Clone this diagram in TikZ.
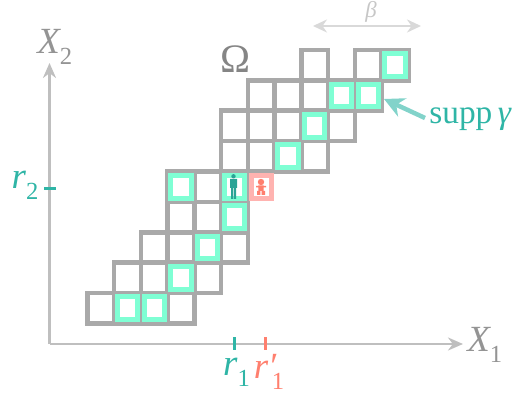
\documentclass[tikz,border=0pt]{standalone}
\usepackage{fontspec}
\setmainfont{Liberation Serif}
\usetikzlibrary{arrows.meta}
\newcommand{\subnum}[1]{\raisebox{-0.3em}{\upshape\fontsize{14}{14}\selectfont #1}}
\definecolor{cellgray}{HTML}{A9A9A9}
\definecolor{suppgreen}{HTML}{7FFFD4}
\definecolor{tealtext}{HTML}{2FB5A6}
\definecolor{salmon}{HTML}{FF7F6E}
\definecolor{pinkbox}{HTML}{FFB3B0}
\tikzset{
	cell/.style={draw=cellgray, line width=.09cm, fill=white},
	suppcell/.style={draw=suppgreen, line width=.1cm, fill=white},
	axis/.style={draw=black!25, line width=.05cm, -{Stealth[length=.3cm,width=.26cm]}},
	axislabel/.style={text=black!42, font=\fontsize{21}{21}\selectfont\itshape, inner sep=0pt},
	ticklabel/.style={font=\fontsize{21}{21}\selectfont\itshape, inner sep=0pt},
}
\begin{document}
\begin{tikzpicture}[x=.02cm, y=-.02cm]
	\useasboundingbox (0,0) rectangle (523,394);
	% cells of Omega: row/first/last
	\begin{scope}[shift={(87.5,323.5)}, x=.535cm, y=.608cm]
		\foreach \j/\a/\b in {0/0/3, 1/1/4, 2/2/5, 3/3/5, 4/3/5, 5/5/8, 6/5/9, 7/6/10}
		\foreach \i in {\a,...,\b}
		\draw[cell] (\i,\j) rectangle ++(1,1);
		\foreach \i/\j in {8/8, 10/8, 11/8}
		\draw[cell] (\i,\j) rectangle ++(1,1);
		% support
		\foreach \i/\j in {1/0, 2/0, 3/1, 4/2, 5/3, 3/4, 5/4, 7/5, 8/6, 9/7, 10/7, 11/8}
		\draw[suppcell] ([xshift=.065cm, yshift=.075cm]\i,\j) rectangle ([xshift=-.065cm, yshift=-.075cm]\i+1,\j+1);
		\draw[suppcell, draw=pinkbox] ([xshift=.065cm, yshift=.075cm]6,4) rectangle ([xshift=-.065cm, yshift=-.075cm]7,5);
	\end{scope}
	% person
	\fill[tealtext!90!black] (233.5,176.3) circle (2.2);
	\fill[tealtext!90!black] (230,179) rectangle (237,188) (231,186) rectangle (233.1,199) (233.9,186) rectangle (236,199);
	% baby
	\fill[salmon] (261,182) circle (3.2);
	\fill[salmon] (256,186) rectangle (266,187.5) (258.3,185.5) rectangle (263.7,191);
	\fill[salmon] (257,191) rectangle (260.4,195) (261.6,191) rectangle (265,195);
	% axes
	\coordinate (origin) at (49.5,344);
	\coordinate (xend) at (463,344);
	\coordinate (yend) at (49.5,63);
	\draw[axis] (origin) -- (xend);
	\draw[axis] (origin) -- (yend);
	\node[axislabel, anchor=west] (xone) at (467,345) {X\subnum{1}};
	\node[axislabel, anchor=west] (xtwo) at (37,47) {X\subnum{2}};
	\node[text=black!48, font=\fontsize{23}{23}\selectfont, inner sep=0pt] (omega) at (236,59) {Ω};
	% ticks
	\draw[tealtext, line width=.06cm] (234.5,337) -- (234.5,350);
	\draw[salmon, line width=.06cm] (265,337) -- (265,350);
	\draw[tealtext, line width=.06cm] (44,189) -- (56,189);
	\node[ticklabel, text=tealtext] (rone) at (236.5,372) {r\subnum{1}};
	\node[ticklabel, text=salmon] (rprime) at (269,372) {r′\hspace{-.12em}\subnum{1}};
	\node[ticklabel, text=tealtext] (rtwo) at (25,185) {r\subnum{2}};
	% beta
	\coordinate (bl) at (313,26);
	\coordinate (br) at (421,26);
	\draw[draw=black!15, line width=.05cm, {Stealth[length=.28cm,width=.26cm]}-{Stealth[length=.28cm,width=.26cm]}] (bl) -- (br);
	\node[text=black!22, font=\fontsize{13}{13}\selectfont\itshape, inner sep=0pt] (beta) at (371,12) {β};
	% supp label
	\node[text=tealtext, font=\fontsize{19}{19}\selectfont, anchor=west, inner sep=0pt] (supp) at (429,119) {supp\,\textit{γ}};
	\coordinate (supptail) at (425,118);
	\coordinate (supptip) at (384,99);
	\draw[draw=tealtext!60, line width=.09cm, -{Stealth[length=.4cm,width=.4cm]}] (supptail) -- (supptip);
\end{tikzpicture}
\end{document}
